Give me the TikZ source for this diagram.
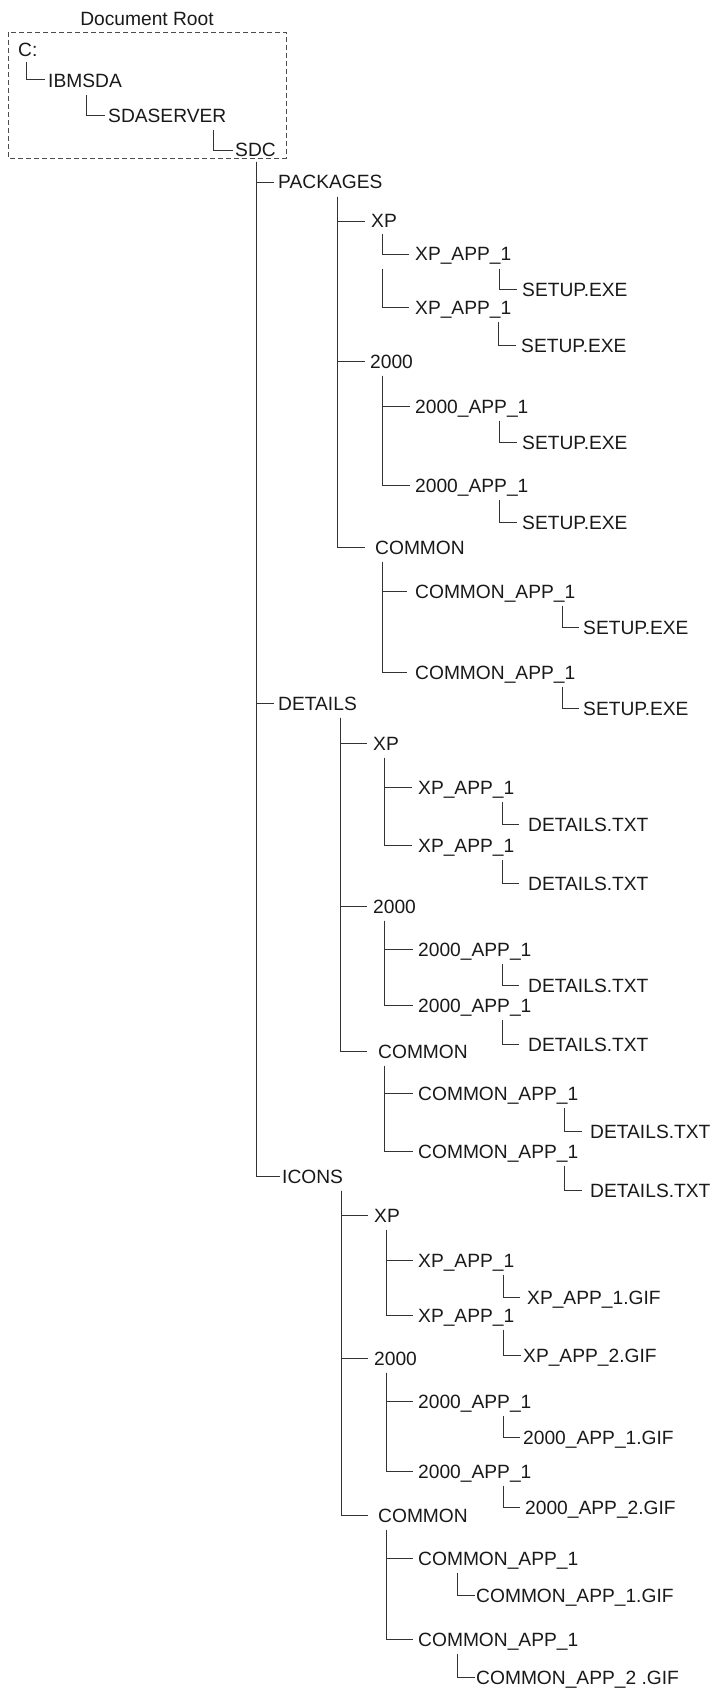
\documentclass[tikz,border=0pt]{standalone}
\usepackage{fontspec}
\setmainfont{Liberation Sans}
\begin{document}
\begin{tikzpicture}[x=1pt,y=-1pt,
  lbl/.style={anchor=west,inner xsep=0pt,inner ysep=7.5pt,text height=14pt,text depth=0pt,
    font=\fontsize{19.2}{20}\selectfont,text=black!90},
  conn/.style={draw=black!80,line width=0.9pt},
  rootbox/.style={draw=black!70,line width=0.8pt,dash pattern=on 5pt off 3pt}]
\useasboundingbox (0,0) rectangle (718,1688);
\newcommand{\link}[4]{\draw[conn] ([xshift=#2pt]#1.south west) |- ([xshift=-#4pt]#3.west);}
% document root
\node[font=\fontsize{19.2}{20}\selectfont,text=black!90,inner sep=0pt] (rootlbl) at (147,18.5) {Document Root};
\draw[rootbox] (8,32) rectangle (286,158);
\node[lbl] (c) at (18,49.5) {C:};
\node[lbl] (ibm) at (48,80.5) {IBMSDA};
\node[lbl] (sdas) at (108,115.5) {SDASERVER};
\node[lbl] (sdc) at (235,150) {SDC};
\draw[conn] ([xshift=8pt,yshift=2pt]c.south west) |- ([xshift=-3pt,yshift=1pt]ibm.west);
\link{ibm}{38}{sdas}{3}
\link{sdas}{105}{sdc}{2}
% level 1
\node[lbl] (pk) at (278,182) {PACKAGES};
\node[lbl] (de) at (278,703) {DETAILS};
\node[lbl] (ic) at (282,1176) {ICONS};
\draw[conn] ([xshift=21pt,yshift=3pt]sdc.south west) |- ([xshift=-4pt]pk.west);
\draw[conn] ([xshift=21pt,yshift=3pt]sdc.south west) |- ([xshift=-4pt]de.west);
\draw[conn] ([xshift=21pt,yshift=3pt]sdc.south west) |- ([xshift=-2pt]ic.west);
% PACKAGES
\node[lbl] (pxp) at (371,221) {XP};
\node[lbl] (p2k) at (370,361) {2000};
\node[lbl] (pco) at (375,547) {COMMON};
\link{pk}{59}{pxp}{6}
\link{pk}{59}{p2k}{5}
\link{pk}{59}{pco}{10}
\node[lbl] (pxa1) at (415,254) {XP\_APP\_1};
\node[lbl] (pxs1) at (522,289) {SETUP.EXE};
\node[lbl] (pxa2) at (415,307) {XP\_APP\_1};
\node[lbl] (pxs2) at (521,345) {SETUP.EXE};
\draw[conn] ([xshift=11pt,yshift=2pt]pxp.south west) |- ([xshift=-6pt]pxa1.west);
\draw[conn] ([xshift=11pt]pxp.west |- pxa1.south) |- ([xshift=-6pt]pxa2.west);
\link{pxa1}{84}{pxs1}{5}
\link{pxa2}{83}{pxs2}{5}
\node[lbl] (p2a1) at (415,406) {2000\_APP\_1};
\node[lbl] (p2s1) at (522,442) {SETUP.EXE};
\node[lbl] (p2a2) at (415,485) {2000\_APP\_1};
\node[lbl] (p2s2) at (522,522) {SETUP.EXE};
\link{p2k}{12}{p2a1}{5}
\link{p2k}{12}{p2a2}{5}
\link{p2a1}{84}{p2s1}{5}
\link{p2a2}{84}{p2s2}{5}
\node[lbl] (pca1) at (415,591) {COMMON\_APP\_1};
\node[lbl] (pcs1) at (583,627) {SETUP.EXE};
\node[lbl] (pca2) at (415,672) {COMMON\_APP\_1};
\node[lbl] (pcs2) at (583,708) {SETUP.EXE};
\link{pco}{7}{pca1}{8}
\link{pco}{7}{pca2}{8}
\link{pca1}{147}{pcs1}{4}
\link{pca2}{147}{pcs2}{4}
% DETAILS
\node[lbl] (dxp) at (373,743) {XP};
\node[lbl] (d2k) at (373,906) {2000};
\node[lbl] (dco) at (378,1051) {COMMON};
\link{de}{62}{dxp}{6}
\link{de}{62}{d2k}{6}
\link{de}{62}{dco}{11}
\node[lbl] (dxa1) at (418,787) {XP\_APP\_1};
\node[lbl] (dxs1) at (528,824) {DETAILS.TXT};
\node[lbl] (dxa2) at (418,845) {XP\_APP\_1};
\node[lbl] (dxs2) at (528,883) {DETAILS.TXT};
\link{dxp}{11}{dxa1}{6}
\link{dxp}{11}{dxa2}{6}
\link{dxa1}{84}{dxs1}{9}
\link{dxa2}{84}{dxs2}{9}
\node[lbl] (d2a1) at (418,949) {2000\_APP\_1};
\node[lbl] (d2s1) at (528,985) {DETAILS.TXT};
\node[lbl] (d2a2) at (418,1005) {2000\_APP\_1};
\node[lbl] (d2s2) at (528,1044) {DETAILS.TXT};
\link{d2k}{11}{d2a1}{5}
\link{d2k}{11}{d2a2}{5}
\link{d2a1}{84}{d2s1}{9}
\link{d2a2}{84}{d2s2}{9}
\node[lbl] (dca1) at (418,1093) {COMMON\_APP\_1};
\node[lbl] (dcs1) at (590,1131) {DETAILS.TXT};
\node[lbl] (dca2) at (418,1151) {COMMON\_APP\_1};
\node[lbl] (dcs2) at (590,1190) {DETAILS.TXT};
\link{dco}{6}{dca1}{5}
\link{dco}{6}{dca2}{5}
\link{dca1}{146}{dcs1}{8}
\link{dca2}{146}{dcs2}{8}
% ICONS
\node[lbl] (ixp) at (374,1215) {XP};
\node[lbl] (i2k) at (374,1358) {2000};
\node[lbl] (ico) at (378,1515) {COMMON};
\link{ic}{59}{ixp}{6}
\link{ic}{59}{i2k}{6}
\link{ic}{59}{ico}{10}
\node[lbl] (ixa1) at (418,1260) {XP\_APP\_1};
\node[lbl] (ixs1) at (527,1297) {XP\_APP\_1.GIF};
\node[lbl] (ixa2) at (418,1315) {XP\_APP\_1};
\node[lbl] (ixs2) at (523,1355) {XP\_APP\_2.GIF};
\link{ixp}{12}{ixa1}{5}
\link{ixp}{12}{ixa2}{5}
\link{ixa1}{85}{ixs1}{7}
\link{ixa2}{85}{ixs2}{2}
\node[lbl] (i2a1) at (418,1401) {2000\_APP\_1};
\node[lbl] (i2s1) at (523,1437) {2000\_APP\_1.GIF};
\node[lbl] (i2a2) at (418,1471) {2000\_APP\_1};
\node[lbl] (i2s2) at (525,1507) {2000\_APP\_2.GIF};
\link{i2k}{12}{i2a1}{5}
\link{i2k}{12}{i2a2}{5}
\link{i2a1}{85}{i2s1}{3}
\link{i2a2}{85}{i2s2}{5}
\node[lbl] (ica1) at (418,1558) {COMMON\_APP\_1};
\node[lbl] (ics1) at (476,1595) {COMMON\_APP\_1.GIF};
\node[lbl] (ica2) at (418,1639) {COMMON\_APP\_1};
\node[lbl] (ics2) at (476,1677) {COMMON\_APP\_2 .GIF};
\link{ico}{8}{ica1}{5}
\link{ico}{8}{ica2}{5}
\link{ica1}{39}{ics1}{1}
\link{ica2}{39}{ics2}{1}
\end{tikzpicture}
\end{document}
